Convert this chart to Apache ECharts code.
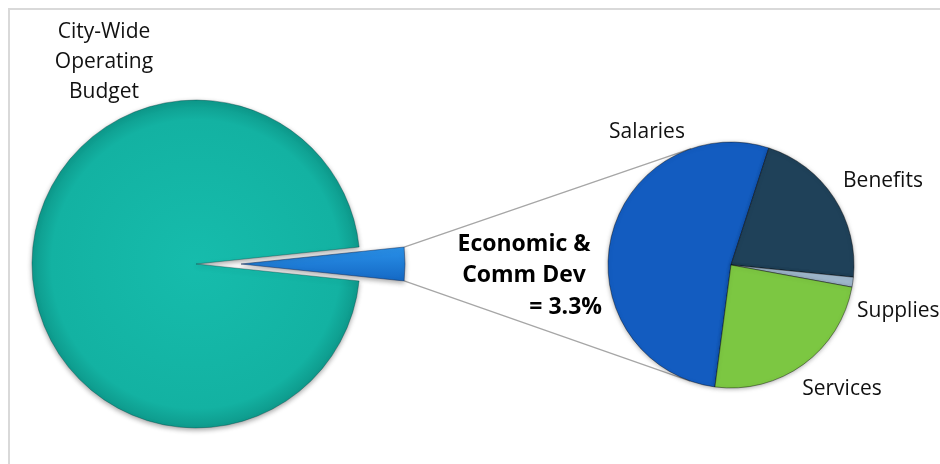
<!DOCTYPE html>
<html>
<head>
<meta charset="utf-8">
<script src="https://cdn.jsdelivr.net/npm/echarts@6/dist/echarts.min.js"></script>
<style>
  html, body { margin: 0; padding: 0; background: #ffffff; }
  #chart { width: 940px; height: 464px; }
</style>
</head>
<body>
<div id="chart"></div>
<script>
// City-wide operating budget: department share (percent)
const budgetNames = ['Economic & Comm Dev', 'Other Departments'];
const budgetShares = [3.3, 96.7];

// Economic & Comm Dev budget broken down by expense type (percent)
const detailNames = ['Salaries', 'Benefits', 'Supplies', 'Services'];
const detailShares = [52.9, 21.6, 1.3, 24.2];

const titleLines = ['City-Wide', 'Operating', 'Budget'];
const focusLines = ['Economic &', 'Comm Dev'];

// ---- layout ----
const FONT = '"Open Sans", Lato, sans-serif';
const MAIN = { cx: 196, cy: 264, r: 164, explode: 45 };
const SUB = { cx: 731, cy: 265, r: 123 };
const detailColors = {
  Salaries: '#135cc0',
  Benefits: '#1f4159',
  Supplies: '#9fb7cc',
  Services: '#7cc742'
};
const detailLabelPos = {
  Salaries: { x: 647, y: 132, align: 'center' },
  Benefits: { x: 883, y: 181, align: 'center' },
  Supplies: { x: 857, y: 311, align: 'left' },
  Services: { x: 842, y: 389, align: 'center' }
};

const total = budgetShares.reduce((a, b) => a + b, 0);
const focusShare = budgetShares[0];
const halfAngle = (focusShare / total) * Math.PI; // half of the wedge sweep, radians

// Outer corners of the exploded wedge (wedge centred on the 3 o'clock direction)
const wedgeCx = MAIN.cx + MAIN.explode;
const cornerTop = [wedgeCx + MAIN.r * Math.cos(halfAngle), MAIN.cy - MAIN.r * Math.sin(halfAngle)];
const cornerBot = [wedgeCx + MAIN.r * Math.cos(halfAngle), MAIN.cy + MAIN.r * Math.sin(halfAngle)];

// Tangent point on the detail pie as seen from point p (side = -1 upper, +1 lower)
function tangentPoint(p, side) {
  const dx = SUB.cx - p[0], dy = SUB.cy - p[1];
  const d = Math.sqrt(dx * dx + dy * dy);
  const base = Math.atan2(dy, dx);
  const t = Math.asin(SUB.r / d);
  const ang = base + side * t;
  const len = Math.sqrt(d * d - SUB.r * SUB.r);
  return [p[0] + len * Math.cos(ang), p[1] + len * Math.sin(ang)];
}
const tanTop = tangentPoint(cornerTop, -1);
const tanBot = tangentPoint(cornerBot, 1);

// Start the detail pie so that Salaries begins just west of due south
const detailStart = 262.5;

function radial(cx, cy, r, stops) {
  return {
    type: 'radial', x: cx, y: cy, r: r, global: true,
    colorStops: stops.map(s => ({ offset: s[0], color: s[1] }))
  };
}

const chart = echarts.init(document.getElementById('chart'), null, { renderer: 'canvas' });

const graphics = [];
// light frame around the plot area
graphics.push({
  type: 'rect', z: -10, silent: true,
  shape: { x: 9, y: 9, width: 1000, height: 1000 },
  style: { fill: 'none', stroke: '#d9d9d9', lineWidth: 2 }
});
// connector lines from the exploded wedge to the detail pie
[[cornerTop, tanTop], [cornerBot, tanBot]].forEach(([a, b]) => {
  graphics.push({
    type: 'line', z: 1, silent: true,
    shape: { x1: a[0], y1: a[1], x2: b[0], y2: b[1] },
    style: { stroke: '#a6a6a6', lineWidth: 1.3 }
  });
});
// title of the main pie
titleLines.forEach((t, i) => {
  graphics.push({
    type: 'text', z: 5, silent: true,
    style: {
      x: 104, y: 32 + i * 30, text: t, align: 'center', verticalAlign: 'middle',
      font: '21px ' + FONT, fill: '#111111'
    }
  });
});
// focus department label, value taken from the data
focusLines.forEach((t, i) => {
  graphics.push({
    type: 'text', z: 5, silent: true,
    style: {
      x: 524, y: 244 + i * 31.5, text: t, align: 'center', verticalAlign: 'middle',
      font: 'bold 23px ' + FONT, fill: '#000000'
    }
  });
});
graphics.push({
  type: 'text', z: 5, silent: true,
  style: {
    x: 602, y: 307, text: '= ' + focusShare.toFixed(1) + '%', align: 'right', verticalAlign: 'middle',
    font: 'bold 23px ' + FONT, fill: '#000000'
  }
});
// detail category labels
detailNames.forEach(name => {
  const p = detailLabelPos[name];
  graphics.push({
    type: 'text', z: 5, silent: true,
    style: {
      x: p.x, y: p.y, text: name, align: p.align, verticalAlign: 'middle',
      font: '21px ' + FONT, fill: '#111111'
    }
  });
});

chart.setOption({
  animation: false,
  backgroundColor: '#ffffff',
  graphic: graphics,
  series: [
    {
      type: 'pie',
      name: 'City-Wide Operating Budget',
      center: [MAIN.cx, MAIN.cy],
      radius: [0, MAIN.r],
      startAngle: (focusShare / total) * 180,
      clockwise: true,
      selectedMode: 'single',
      selectedOffset: MAIN.explode,
      label: { show: false },
      labelLine: { show: false },
      emphasis: { disabled: true },
      itemStyle: {
        borderColor: 'rgba(0,60,60,0.45)', borderWidth: 0.8,
        shadowBlur: 5, shadowColor: 'rgba(0,0,0,0.35)', shadowOffsetY: 2
      },
      data: budgetNames.map((n, i) => ({
        name: n,
        value: budgetShares[i],
        selected: i === 0,
        itemStyle: i === 0
          ? { color: { type: 'linear', x: 0, y: 0, x2: 0, y2: 1,
                colorStops: [{ offset: 0, color: '#2a92ea' }, { offset: 1, color: '#1468c4' }] },
              borderColor: 'rgba(20,40,80,0.6)' }
          : { color: radial(MAIN.cx, MAIN.cy, MAIN.r, [[0, '#16bcac'], [0.88, '#13b2a2'], [1, '#0e9a8c']]) }
      }))
    },
    {
      type: 'pie',
      name: 'Economic & Comm Dev',
      center: [SUB.cx, SUB.cy],
      radius: [0, SUB.r],
      startAngle: detailStart,
      clockwise: true,
      label: { show: false },
      labelLine: { show: false },
      emphasis: { disabled: true },
      itemStyle: {
        borderColor: 'rgba(0,0,0,0.5)', borderWidth: 0.8,
        shadowBlur: 4, shadowColor: 'rgba(0,0,0,0.3)', shadowOffsetY: 1
      },
      data: detailNames.map((n, i) => ({
        name: n,
        value: detailShares[i],
        itemStyle: { color: detailColors[n] }
      }))
    }
  ]
});
</script>
</body>
</html>
